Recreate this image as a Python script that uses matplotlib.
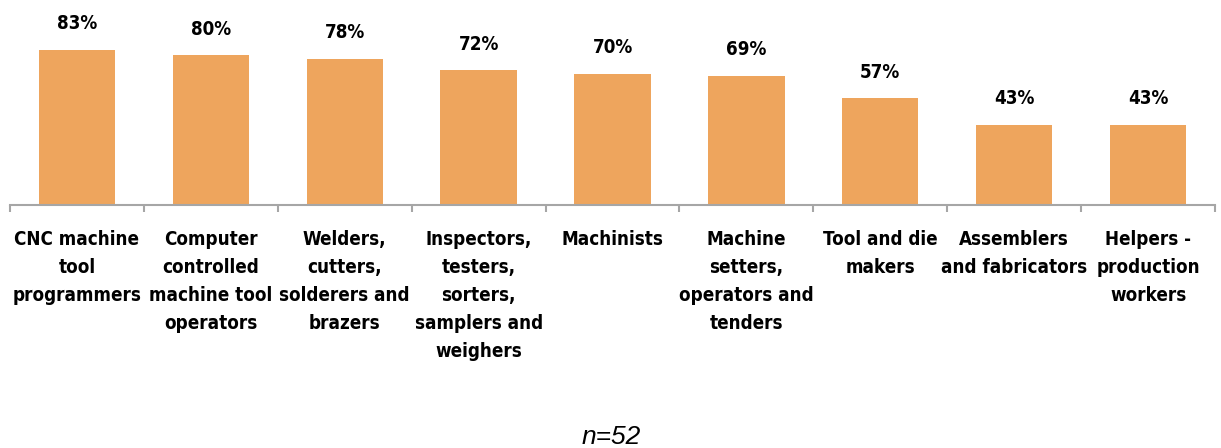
import matplotlib
matplotlib.use("Agg")
import matplotlib.pyplot as plt
import numpy as np

categories = [
    "CNC machine\ntool\nprogrammers",
    "Computer\ncontrolled\nmachine tool\noperators",
    "Welders,\ncutters,\nsolderers and\nbrazers",
    "Inspectors,\ntesters,\nsorters,\nsamplers and\nweighers",
    "Machinists",
    "Machine\nsetters,\noperators and\ntenders",
    "Tool and die\nmakers",
    "Assemblers\nand fabricators",
    "Helpers -\nproduction\nworkers",
]
values = [83, 80, 78, 72, 70, 69, 57, 43, 43]
value_labels = ["83%", "80%", "78%", "72%", "70%", "69%", "57%", "43%", "43%"]
note = "n=52"

bar_color = "#EEA55D"
axis_color = "#A6A6A6"
FONT = dict(family="DejaVu Sans", fontstretch="condensed", fontweight="bold")

fig = plt.figure(figsize=(12.21, 4.48), dpi=100)
ax = fig.add_axes([10/1221, (448-205)/448, 1205/1221, 187/448])

x = np.arange(len(values))
ax.bar(x, values, width=0.57, color=bar_color, zorder=2)
ax.set_xlim(-0.5, len(values) - 0.5)
ax.set_ylim(0, 100)

for xi, v, lab in zip(x, values, value_labels):
    ax.annotate(lab, (xi, v), xytext=(0, 12), textcoords="offset points",
                ha="center", va="bottom", fontsize=13.5, color="black", **FONT)

for s in ["top", "right", "left"]:
    ax.spines[s].set_visible(False)
ax.spines["bottom"].set_color(axis_color)
ax.spines["bottom"].set_linewidth(1.5)
ax.set_yticks([])

ax.set_xticks(np.arange(-0.5, len(values)), minor=False)
ax.set_xticklabels([])
ax.tick_params(axis="x", which="major", length=5, width=1.5, color=axis_color)

for xi, c in zip(x, categories):
    ax.annotate(c, (xi, 0), xytext=(0, -18), textcoords="offset points",
                ha="center", va="top", fontsize=13.5, color="black",
                linespacing=1.6, **FONT)

fig.text(611/1221, 1 - 437/448, note, ha="center", va="center",
         fontsize=19, style="italic", family="Liberation Sans", color="black")

fig.savefig("out.png", dpi=100)
